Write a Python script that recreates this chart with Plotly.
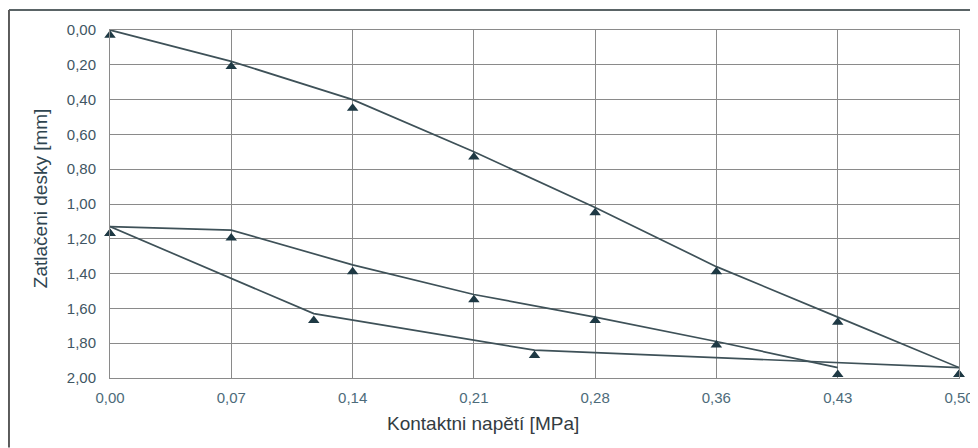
import plotly.graph_objects as go

# ---- data ----
x_tick_vals = [0.0, 0.0714, 0.1429, 0.2143, 0.2857, 0.3571, 0.4286, 0.5]
x_tick_text = ["0,00", "0,07", "0,14", "0,21", "0,28", "0,36", "0,43", "0,50"]
y_tick_vals = [0.0, 0.2, 0.4, 0.6, 0.8, 1.0, 1.2, 1.4, 1.6, 1.8, 2.0]
y_tick_text = ["0,00", "0,20", "0,40", "0,60", "0,80", "1,00", "1,20", "1,40", "1,60", "1,80", "2,00"]

# first loading
load1_x = [0.0, 0.0714, 0.1429, 0.2143, 0.2857, 0.3571, 0.4286, 0.5]
load1_pts = [0.03, 0.21, 0.45, 0.73, 1.05, 1.39, 1.68, 1.98]
load1_line = [0.00, 0.18, 0.40, 0.70, 1.02, 1.36, 1.65, 1.94]

# unloading
unload_x = [0.5, 0.25, 0.12, 0.0]
unload_pts = [1.98, 1.87, 1.67, 1.17]
unload_line = [1.94, 1.84, 1.63, 1.13]

# second loading
load2_x = [0.0, 0.0714, 0.1429, 0.2143, 0.2857, 0.3571, 0.4286]
load2_pts = [1.17, 1.195, 1.39, 1.55, 1.67, 1.81, 1.98]
load2_line = [1.13, 1.15, 1.35, 1.52, 1.65, 1.79, 1.94]

x_title = "Kontaktni napětí [MPa]"
y_title = "Zatlačeni desky [mm]"

line_color = "#3e5158"
marker_color = "#1e3944"
tick_color = "#4d6b7a"
grid_color = "#8a8a8a"
FONT = "Liberation Sans, Arial, sans-serif"

fig = go.Figure()
for xs, ln, pts in [(load1_x, load1_line, load1_pts),
                    (unload_x, unload_line, unload_pts),
                    (load2_x, load2_line, load2_pts)]:
    fig.add_trace(go.Scatter(x=xs, y=ln, mode="lines",
                             line=dict(color=line_color, width=1.7),
                             showlegend=False, hoverinfo="skip", cliponaxis=False))
    fig.add_trace(go.Scatter(x=xs, y=pts, mode="markers",
                             marker=dict(symbol="triangle-up", size=10, color=marker_color),
                             showlegend=False, cliponaxis=False))

fig.update_layout(
    width=970, height=440,
    margin=dict(l=102, r=19, t=22, b=70),
    paper_bgcolor="white", plot_bgcolor="white",
    font=dict(family=FONT, size=15, color=tick_color),
    xaxis=dict(range=[0, 0.5], tickvals=x_tick_vals, ticktext=x_tick_text,
               automargin=False,
               showgrid=True, gridcolor=grid_color, gridwidth=1,
               showline=True, linecolor=grid_color, mirror=True,
               zeroline=False, ticks="", ticklen=0, ticklabelstandoff=6,
               tickfont=dict(family=FONT, size=15, color=tick_color)),
    yaxis=dict(range=[2.0, 0.0], tickvals=y_tick_vals, ticktext=y_tick_text,
               automargin=False,
               showgrid=True, gridcolor=grid_color, gridwidth=1,
               showline=True, linecolor=grid_color, mirror=True,
               zeroline=False, ticks="", ticklen=0, ticklabelstandoff=10,
               tickfont=dict(family=FONT, size=15, color="#3f5663")),
    annotations=[
        dict(text=x_title, xref="paper", yref="paper", x=0.439, y=-0.132,
             xanchor="center", yanchor="middle", showarrow=False,
             font=dict(family=FONT, size=19, color="#333c42")),
        dict(text=y_title, xref="paper", yref="paper", x=-0.0824, y=0.517,
             xanchor="center", yanchor="middle", showarrow=False, textangle=-90,
             font=dict(family=FONT, size=19, color="#2f4550")),
    ],
    shapes=[
        dict(type="line", xref="paper", yref="paper", x0=-0.1190, x1=1.03, y0=1.0575, y1=1.0575,
             line=dict(color="#5a6466", width=2)),
        dict(type="line", xref="paper", yref="paper", x0=-0.1190, x1=-0.1190, y0=1.0575, y1=-0.2,
             line=dict(color="#5a5a5a", width=2)),
    ],
)

fig.write_html("out.html")
